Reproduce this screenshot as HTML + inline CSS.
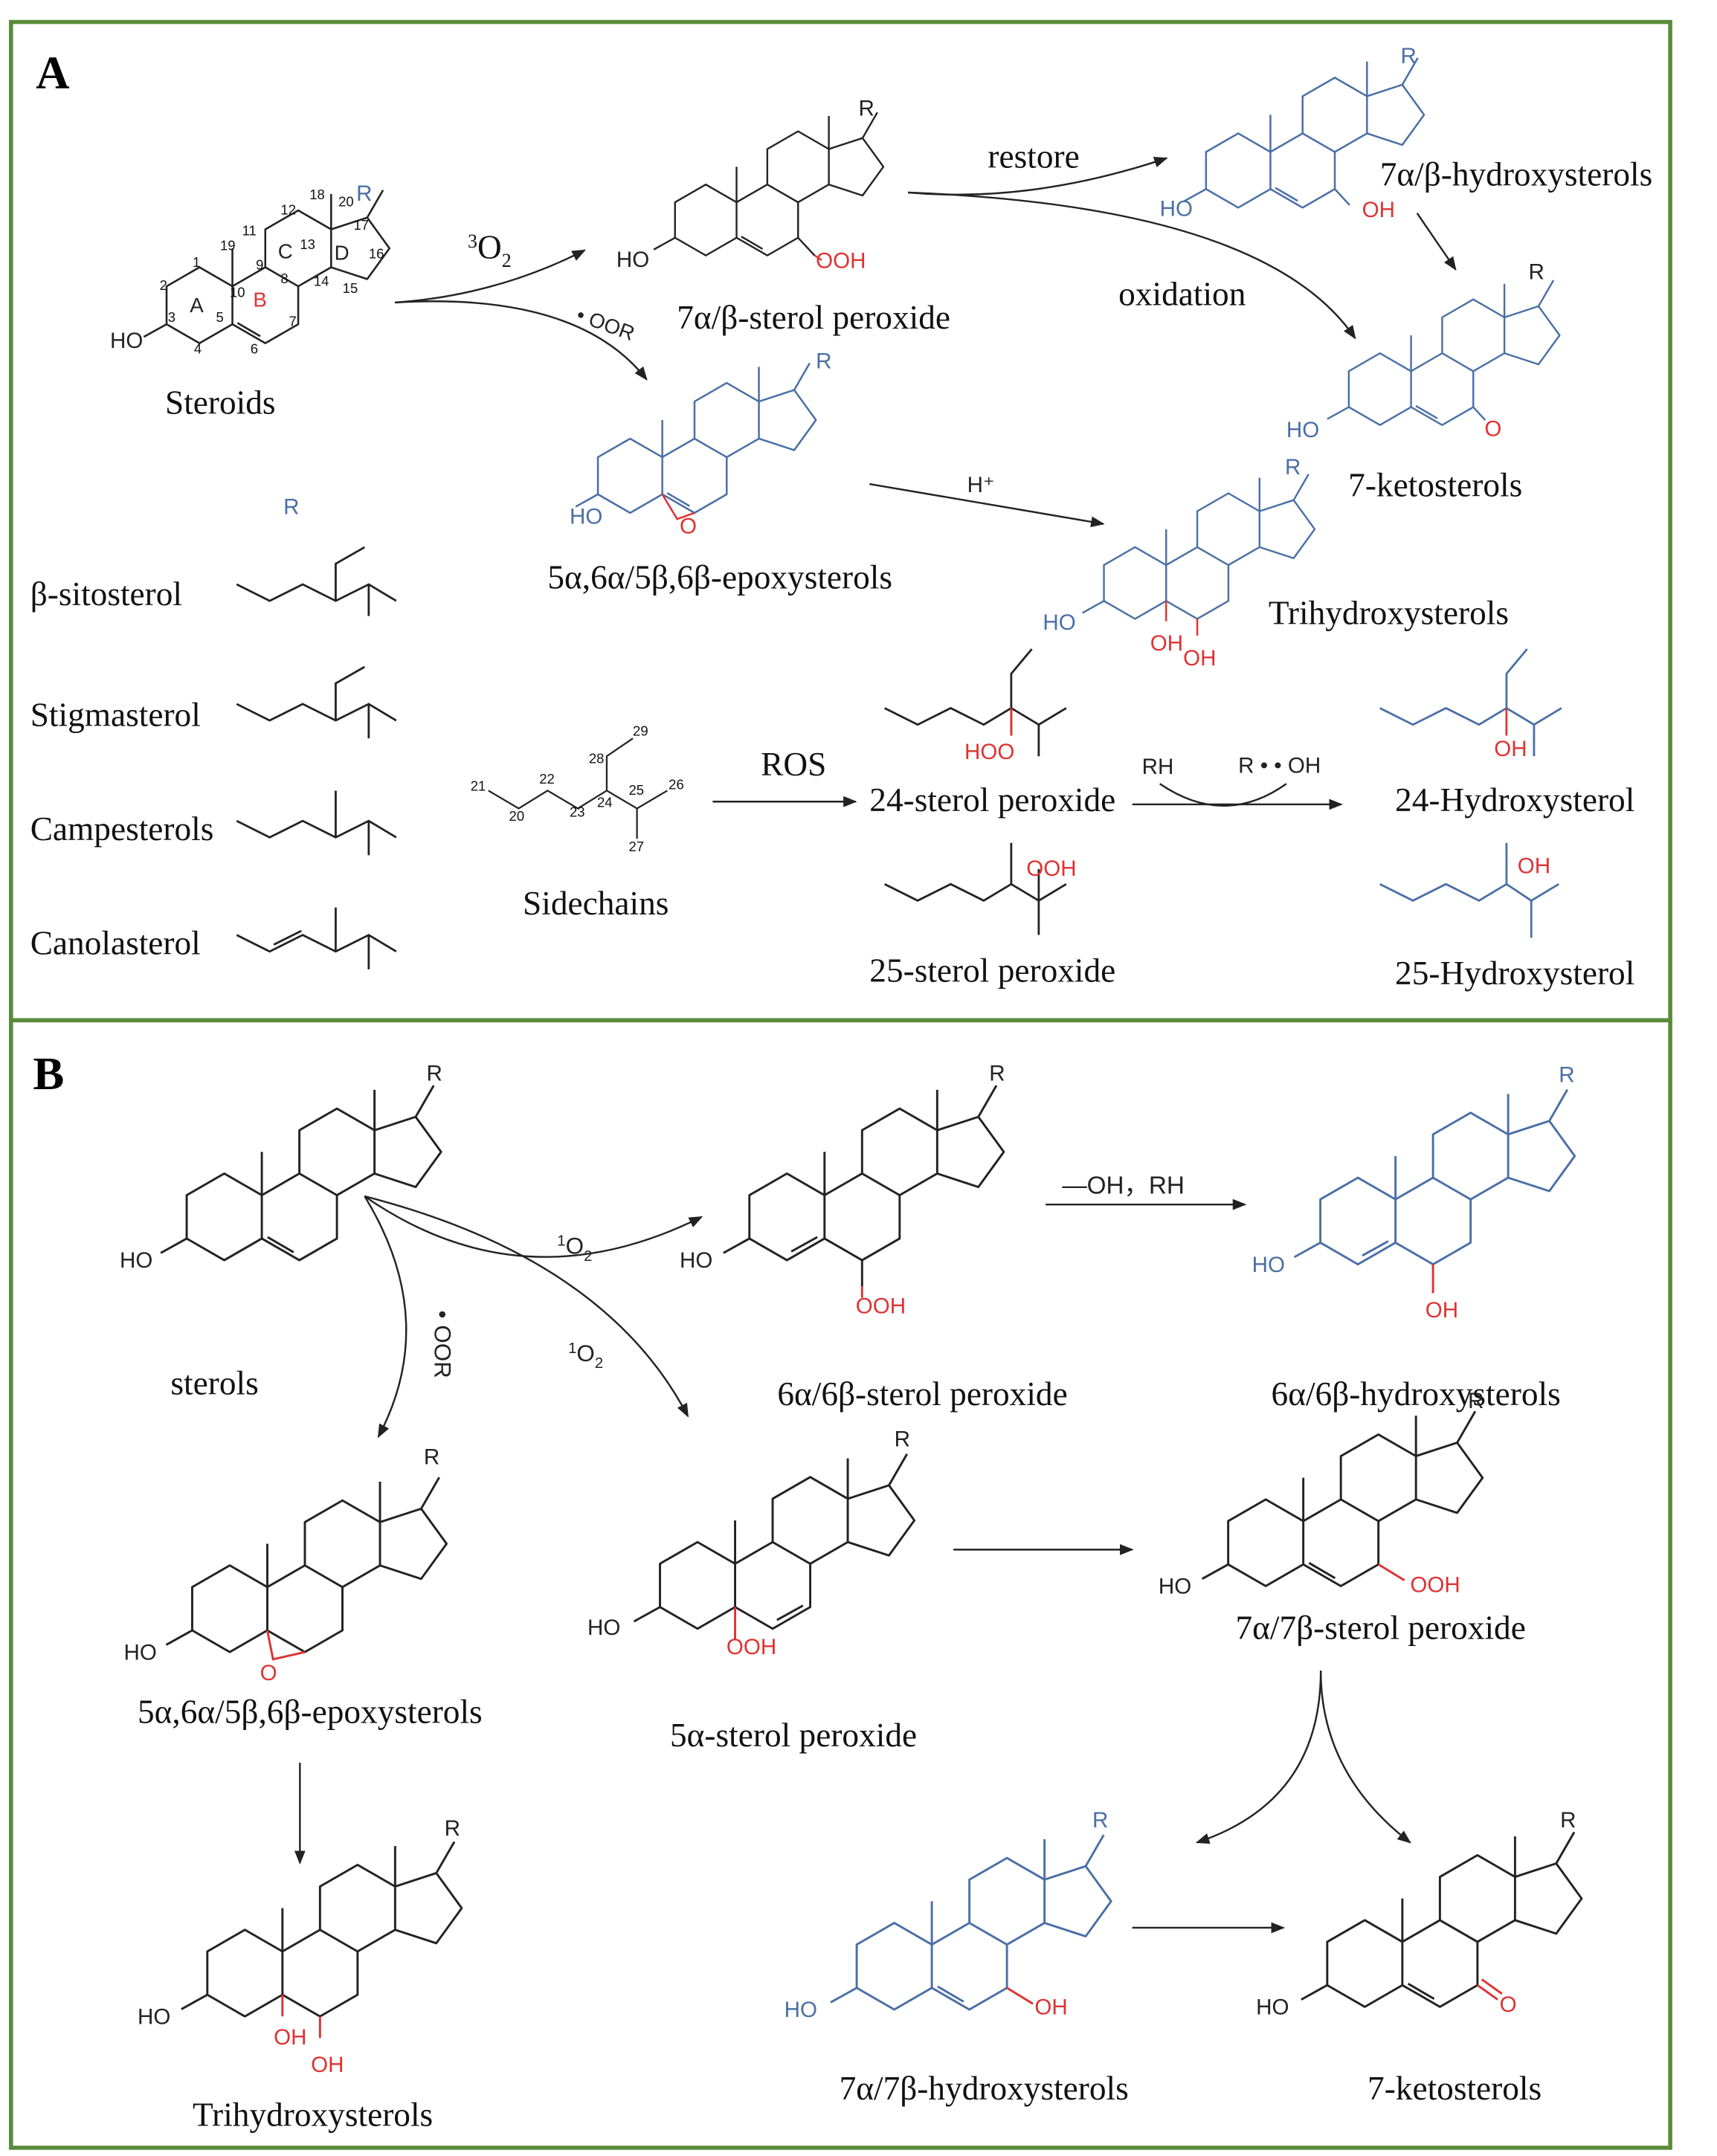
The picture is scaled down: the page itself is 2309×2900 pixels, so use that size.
<!DOCTYPE html>
<html><head><meta charset="utf-8">
<style>
html,body{margin:0;padding:0;background:#fff;}
svg{display:block;}
.n{font-family:"Liberation Serif",serif;font-size:24.5px;fill:#111;}
.a{font-family:"Liberation Sans",sans-serif;font-size:16px;}
.s{font-family:"Liberation Sans",sans-serif;font-size:10px;fill:#111;}
</style></head><body>
<svg width="2309" height="2900" viewBox="0 0 1248 1568" preserveAspectRatio="none" xmlns="http://www.w3.org/2000/svg">
<defs>
<marker id="ar" markerWidth="10" markerHeight="8" refX="9" refY="4" orient="auto" markerUnits="userSpaceOnUse">
<path d="M0,0 L10,4 L0,8 Z" fill="#222"/></marker>
<g id="st" fill="none" stroke="currentColor" stroke-width="1.5" stroke-linejoin="round">
<path d="M-26,-15 L0,-30 L26,-15 L26,15 L0,30 L-26,15 Z"/>
<path d="M26,-15 L52,-30 L78,-15 L78,15 L52,30 L26,15"/>
<path d="M52,-30 L52,-60 L78,-75 L104,-60 L104,-30 L78,-15"/>
<path d="M104,-60 L132.5,-69.3 L150.1,-45 L132.5,-20.7 L104,-30"/>
<path d="M26,-15 L26,-45 M104,-60 L104,-88 M132.5,-69.3 L145,-91 M-26,15 L-44,25"/>
</g>
</defs>
<rect x="0" y="0" width="1248" height="1568" fill="#fff"/>
<rect x="8" y="16" width="1206" height="726" fill="none" stroke="#5b8b3b" stroke-width="3"/>
<rect x="8" y="742" width="1206" height="820" fill="none" stroke="#5b8b3b" stroke-width="3"/>
<text x="26" y="64" font-family="Liberation Serif,serif" font-weight="bold" font-size="34" fill="#000">A</text>
<text x="24" y="792" font-family="Liberation Serif,serif" font-weight="bold" font-size="34" fill="#000">B</text>

<!-- Panel A steroids -->
<g transform="translate(145,222) scale(0.92)" color="#222"><use href="#st"/>
<path d="M30,14 L48,24.5" stroke="#222" stroke-width="1.5"/></g>
<text class="a" x="80" y="253" fill="#222">HO</text>
<text class="a" x="259" y="146" fill="#4a6fa5">R</text>
<text x="138" y="227" font-family="Liberation Sans" font-size="15" fill="#222">A</text>
<text x="184" y="223" font-family="Liberation Sans" font-size="15" fill="#d33">B</text>
<text x="202" y="188" font-family="Liberation Sans" font-size="15" fill="#222">C</text>
<text x="243" y="189" font-family="Liberation Sans" font-size="15" fill="#222">D</text>
<text class="s" x="140" y="194">1</text><text class="s" x="116" y="211">2</text><text class="s" x="122" y="234">3</text><text class="s" x="141" y="257">4</text>
<text class="s" x="157" y="234" fill="#d33">5</text><text class="s" x="182" y="257" fill="#d33">6</text><text class="s" x="210" y="237" fill="#d33">7</text>
<text class="s" x="204" y="206">8</text><text class="s" x="186" y="196">9</text><text class="s" x="167" y="216">10</text><text class="s" x="176" y="171">11</text>
<text class="s" x="204" y="156">12</text><text class="s" x="218" y="181">13</text><text class="s" x="228" y="208">14</text><text class="s" x="249" y="213">15</text>
<text class="s" x="268" y="188">16</text><text class="s" x="257" y="167">17</text><text class="s" x="225" y="145">18</text><text class="s" x="160" y="182">19</text><text class="s" x="246" y="150">20</text>
<text class="n" x="120" y="301">Steroids</text>

<!-- 7a/b-sterol peroxide -->
<g transform="translate(513,160) scale(0.86)" color="#222"><use href="#st"/>
<path d="M30,14 L48,24.5 M78,15 L92,30" stroke="#222" fill="none" stroke-width="1.5"/><path d="M92,30 L98,34" stroke="#d33" stroke-width="1.5"/></g>
<text class="a" x="448" y="194" fill="#222">HO</text>
<text class="a" x="593" y="195" fill="#d33">OOH</text>
<text class="a" x="624" y="84" fill="#222">R</text>
<text class="n" x="492" y="239">7α/β-sterol peroxide</text>

<!-- 7a/b-hydroxysterols blue -->
<g transform="translate(900,124) scale(0.9)" color="#4a6fa5"><use href="#st"/>
<path d="M30,14 L48,24.5 M78,15 L90,28" stroke="#4a6fa5" fill="none" stroke-width="1.5"/></g>
<text class="a" x="843" y="157" fill="#4a6fa5">HO</text>
<text class="a" x="990" y="158" fill="#d33">OH</text>
<text class="a" x="1018" y="46" fill="#4a6fa5">R</text>
<text class="n" x="1003" y="135">7α/β-hydroxysterols</text>

<!-- 7-ketosterols -->
<g transform="translate(1003,283) scale(0.87)" color="#4a6fa5"><use href="#st"/>
<path d="M30,14 L48,24.5 M78,15 L88,26" stroke="#4a6fa5" fill="none" stroke-width="1.5"/></g>
<text class="a" x="935" y="318" fill="#4a6fa5">HO</text>
<text class="a" x="1079" y="317" fill="#d33">O</text>
<text class="a" x="1111" y="203" fill="#222">R</text>
<text class="n" x="980" y="361">7-ketosterols</text>

<!-- epoxysterols A -->
<g transform="translate(458,346) scale(0.9)" color="#4a6fa5"><use href="#st"/>
<path d="M30,14 L48,24.5" stroke="#4a6fa5" fill="none" stroke-width="1.5"/>
<path d="M26,15 L38,35 L52,30" stroke="#d33" fill="none" stroke-width="1.5"/></g>
<text class="a" x="414" y="381" fill="#4a6fa5">HO</text>
<text class="a" x="494" y="388" fill="#d33">O</text>
<text class="a" x="593" y="268" fill="#4a6fa5">R</text>
<text class="n" x="398" y="428">5α,6α/5β,6β-epoxysterols</text>

<!-- trihydroxy A -->
<g transform="translate(825,424) scale(0.87)" color="#4a6fa5"><use href="#st"/>
<path d="M26,15 L26,32 M52,30 L52,44" stroke="#d33" fill="none" stroke-width="1.5"/></g>
<text class="a" x="758" y="458" fill="#4a6fa5">HO</text>
<text class="a" x="836" y="473" fill="#d33">OH</text>
<text class="a" x="860" y="484" fill="#d33">OH</text>
<text class="a" x="934" y="345" fill="#4a6fa5">R</text>
<text class="n" x="922" y="454">Trihydroxysterols</text>

<text class="a" x="206" y="374" fill="#4a6fa5">R</text>
<text class="n" x="22" y="440">β-sitosterol</text>
<text class="n" x="22" y="528">Stigmasterol</text>
<text class="n" x="22" y="611">Campesterols</text>
<text class="n" x="22" y="694">Canolasterol</text>
<g fill="none" stroke="#222" stroke-width="1.5">
<path d="M172,425 L196,437 L220,425 L244,437 L268,425 L288,437 M244,437 L244,410 L265,398 M268,425 L268,448"/>
<path d="M172,512 L196,524 L220,512 L244,524 L268,512 L288,524 M244,524 L244,497 L265,485 M268,512 L268,537"/>
<path d="M172,597 L196,609 L220,597 L244,609 L268,597 L288,609 M244,609 L244,575 M268,597 L268,622"/>
<path d="M172,680 L196,692 L220,680 L244,692 L268,680 L288,692 M199,687 L219,677 M244,692 L244,660 M268,680 L268,705"/>
</g>
<!-- sidechains -->
<g fill="none" stroke="#222" stroke-width="1.2">
<path d="M355,575 L377,588 L398,575 L420,588 L441,575 L463,588 L485,575 M441,575 L441,550 L460,537 M463,588 L463,610"/>
</g>
<text class="s" x="342" y="575">21</text><text class="s" x="370" y="597">20</text><text class="s" x="392" y="570">22</text>
<text class="s" x="414" y="594">23</text><text class="s" x="434" y="587">24</text><text class="s" x="457" y="578">25</text>
<text class="s" x="486" y="574">26</text><text class="s" x="457" y="619">27</text><text class="s" x="428" y="555">28</text><text class="s" x="460" y="535">29</text>
<text class="n" x="380" y="665">Sidechains</text>

<!-- peroxide side chains -->
<g fill="none" stroke="#222" stroke-width="1.5">
<path d="M643,515 L667,527 L691,515 L715,527 L735,515 L755,527 L775,515 M735,515 L735,490 L750,472 M735,515 L735,535 M755,527 L755,550"/>
<path d="M643,643 L667,655 L691,643 L715,655 L735,643 L755,655 L775,643 M735,643 L735,613 M755,655 L755,680 M755,655 L755,632"/>
</g>
<g fill="none" stroke="#4a6fa5" stroke-width="1.5">
<path d="M1003,515 L1027,527 L1051,515 L1075,527 L1095,515 L1115,527 L1135,515 M1095,515 L1095,490 L1110,472 M1115,527 L1115,550"/>
<path d="M1003,643 L1027,655 L1051,643 L1075,655 L1095,643 L1113,655 M1095,643 L1095,613 M1113,655 L1113,682 M1113,655 L1133,643"/>
</g>
<path d="M735,515 L735,535" stroke="#d33" stroke-width="1.5"/>
<path d="M1095,515 L1095,535" stroke="#d33" stroke-width="1.5"/>
<text class="a" x="701" y="552" fill="#d33">HOO</text>
<text class="a" x="746" y="637" fill="#d33">OOH</text>
<text class="a" x="1086" y="550" fill="#d33">OH</text>
<text class="a" x="1103" y="635" fill="#d33">OH</text>
<text class="n" x="632" y="590">24-sterol peroxide</text>
<text class="n" x="632" y="714">25-sterol peroxide</text>
<text class="n" x="1014" y="590">24-Hydroxysterol</text>
<text class="n" x="1014" y="716">25-Hydroxysterol</text>

<!-- panel A arrows -->
<g fill="none" stroke="#222" stroke-width="1.3">
<path d="M287,220 Q360,215 425,182" marker-end="url(#ar)"/>
<path d="M287,220 Q420,212 470,276" marker-end="url(#ar)"/>
<path d="M660,140 Q750,148 848,115" marker-end="url(#ar)"/>
<path d="M660,140 Q920,150 985,246" marker-end="url(#ar)"/>
<path d="M1030,155 L1058,196" marker-end="url(#ar)"/>
<path d="M632,352 L802,381" marker-end="url(#ar)"/>
<path d="M518,583 L622,583" marker-end="url(#ar)"/>
<path d="M823,585 L975,585" marker-end="url(#ar)"/>
<path d="M843,570 Q890,602 935,570"/>
</g>
<text class="n" x="340" y="188"><tspan font-size="14" dy="-8">3</tspan><tspan dy="8">O</tspan><tspan font-size="14" dy="6">2</tspan></text>
<text x="418" y="233" transform="rotate(20 418 233)" font-family="Liberation Sans" font-size="15" fill="#222">• OOR</text>
<text class="n" x="718" y="122">restore</text>
<text class="n" x="813" y="222">oxidation</text>
<text class="a" x="703" y="358" fill="#222" font-size="14">H⁺</text>
<text class="n" x="553" y="564">ROS</text>
<text class="a" x="830" y="563" fill="#222" font-size="14">RH</text>
<text class="a" x="900" y="562" fill="#222" font-size="14">R • • OH</text>

<!-- Panel B -->
<g transform="translate(163,885) scale(1.05)" color="#222"><use href="#st"/>
<path d="M30,14 L48,24.5" stroke="#222" stroke-width="1.5"/></g>
<text class="a" x="87" y="922" fill="#222" font-size="18">HO</text>
<text class="a" x="310" y="786" fill="#222" font-size="18">R</text>
<text class="n" x="124" y="1014">sterols</text>

<g transform="translate(572,885) scale(1.05)" color="#222"><use href="#st"/>
<path d="M3,24 L21,14 M52,30 L52,48" stroke="#222" stroke-width="1.5"/><path d="M52,48 L52,56" stroke="#d33" stroke-width="1.5"/></g>
<text class="a" x="494" y="922" fill="#222" font-size="18">HO</text>
<text class="a" x="622" y="955" fill="#d33" font-size="18">OOH</text>
<text class="a" x="719" y="786" fill="#222" font-size="18">R</text>
<text class="n" x="565" y="1022">6α/6β-sterol peroxide</text>

<g transform="translate(987,888) scale(1.05)" color="#4a6fa5"><use href="#st"/>
<path d="M3,24 L21,14" stroke="#4a6fa5" stroke-width="1.5"/><path d="M52,30 L52,50" stroke="#d33" stroke-width="1.5"/></g>
<text class="a" x="910" y="925" fill="#4a6fa5" font-size="18">HO</text>
<text class="a" x="1036" y="958" fill="#d33" font-size="18">OH</text>
<text class="a" x="1133" y="787" fill="#4a6fa5" font-size="18">R</text>
<text class="n" x="924" y="1022">6α/6β-hydroxysterols</text>

<g transform="translate(167,1170) scale(1.05)" color="#222"><use href="#st"/>
<path d="M26,15 L30,35 L52,30" stroke="#d33" fill="none" stroke-width="1.5"/></g>
<text class="a" x="90" y="1207" fill="#222" font-size="18">HO</text>
<text class="a" x="189" y="1222" fill="#d33" font-size="18">O</text>
<text class="a" x="308" y="1065" fill="#222" font-size="18">R</text>
<text class="n" x="100" y="1253">5α,6α/5β,6β-epoxysterols</text>

<g transform="translate(507,1153) scale(1.05)" color="#222"><use href="#st"/>
<path d="M55,24 L73,14" stroke="#222" stroke-width="1.5"/><path d="M26,15 L26,38" stroke="#d33" stroke-width="1.5"/></g>
<text class="a" x="427" y="1189" fill="#222" font-size="18">HO</text>
<text class="a" x="528" y="1203" fill="#d33" font-size="18">OOH</text>
<text class="a" x="650" y="1052" fill="#222" font-size="18">R</text>
<text class="n" x="487" y="1270">5α-sterol peroxide</text>

<g transform="translate(920,1122) scale(1.05)" color="#222"><use href="#st"/>
<path d="M30,14 L48,24.5" stroke="#222" stroke-width="1.5"/><path d="M78,15 L96,26" stroke="#d33" stroke-width="1.5"/></g>
<text class="a" x="842" y="1159" fill="#222" font-size="18">HO</text>
<text class="a" x="1025" y="1158" fill="#d33" font-size="18">OOH</text>
<text class="a" x="1067" y="1024" fill="#222" font-size="18">R</text>
<text class="n" x="898" y="1192">7α/7β-sterol peroxide</text>

<g transform="translate(178,1435) scale(1.05)" color="#222"><use href="#st"/>
<path d="M26,15 L26,30 M52,30 L52,45" stroke="#d33" stroke-width="1.5"/></g>
<text class="a" x="100" y="1472" fill="#222" font-size="18">HO</text>
<text class="a" x="199" y="1487" fill="#d33" font-size="18">OH</text>
<text class="a" x="226" y="1507" fill="#d33" font-size="18">OH</text>
<text class="a" x="323" y="1335" fill="#222" font-size="18">R</text>
<text class="n" x="140" y="1546">Trihydroxysterols</text>

<g transform="translate(650,1430) scale(1.05)" color="#4a6fa5"><use href="#st"/>
<path d="M30,14 L48,24.5" stroke="#4a6fa5" stroke-width="1.5"/><path d="M78,15 L96,26" stroke="#d33" stroke-width="1.5"/></g>
<text class="a" x="570" y="1467" fill="#4a6fa5" font-size="18">HO</text>
<text class="a" x="752" y="1465" fill="#d33" font-size="18">OH</text>
<text class="a" x="794" y="1329" fill="#4a6fa5" font-size="18">R</text>
<text class="n" x="610" y="1527">7α/7β-hydroxysterols</text>

<g transform="translate(992,1428) scale(1.05)" color="#222"><use href="#st"/>
<path d="M30,14 L48,24.5" stroke="#222" stroke-width="1.5"/><path d="M78,15 L92,25 M81,11 L95,21" stroke="#d33" stroke-width="1.5"/></g>
<text class="a" x="913" y="1465" fill="#222" font-size="18">HO</text>
<text class="a" x="1090" y="1463" fill="#d33" font-size="18">O</text>
<text class="a" x="1134" y="1329" fill="#222" font-size="18">R</text>
<text class="n" x="994" y="1527">7-ketosterols</text>

<!-- panel B arrows -->
<g fill="none" stroke="#222" stroke-width="1.3">
<path d="M265,870 Q380,950 510,885" marker-end="url(#ar)"/>
<path d="M265,870 Q440,915 500,1030" marker-end="url(#ar)"/>
<path d="M265,870 Q320,960 275,1045" marker-end="url(#ar)"/>
<path d="M760,876 L905,876" marker-end="url(#ar)"/>
<path d="M218,1282 L218,1355" marker-end="url(#ar)"/>
<path d="M693,1127 L823,1127" marker-end="url(#ar)"/>
<path d="M960,1215 Q960,1310 870,1340" marker-end="url(#ar)"/>
<path d="M960,1215 Q960,1290 1025,1340" marker-end="url(#ar)"/>
<path d="M823,1402 L933,1402" marker-end="url(#ar)"/>
</g>
<text font-family="Liberation Sans" font-size="17" x="405" y="912" fill="#222"><tspan font-size="11" dy="-6">1</tspan><tspan dy="6">O</tspan><tspan font-size="11" dy="5">2</tspan></text>
<text font-family="Liberation Sans" font-size="17" x="413" y="990" fill="#222"><tspan font-size="11" dy="-6">1</tspan><tspan dy="6">O</tspan><tspan font-size="11" dy="5">2</tspan></text>
<text x="316" y="953" transform="rotate(90 316 953)" font-family="Liberation Sans" font-size="17" fill="#222">• OOR</text>
<text font-family="Liberation Sans" font-size="18" x="772" y="868" fill="#222">—OH，RH</text>
</svg>
</body></html>
